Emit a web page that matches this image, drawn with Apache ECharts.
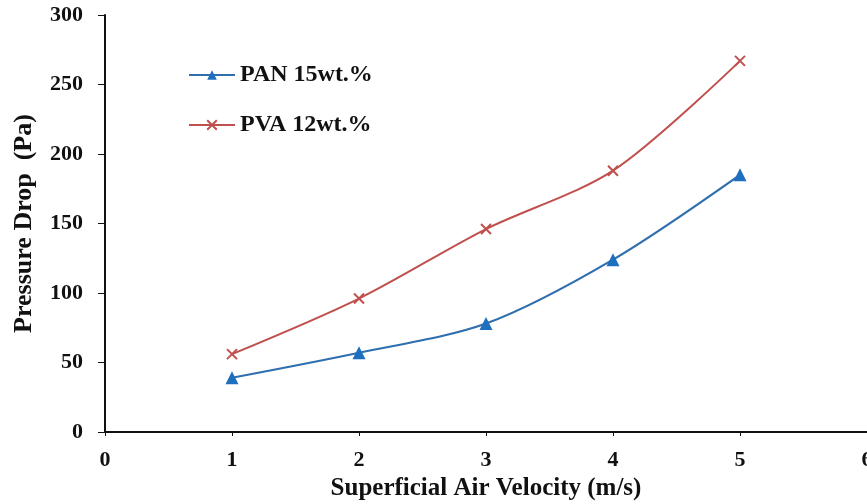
<!DOCTYPE html>
<html><head><meta charset="utf-8">
<script src="https://cdn.jsdelivr.net/npm/echarts@6/dist/echarts.min.js"></script>
<style>html,body{margin:0;padding:0;background:#fff}#c{width:867px;height:504px}</style>
</head><body><div id="c"></div>
<script>
const xValues = [1, 2, 3, 4, 5];
const panValues = [39, 57, 78, 124, 185];
const pvaValues = [56, 96, 146, 188, 267];
const seriesNames = ['PAN 15wt.%', 'PVA 12wt.%'];
const xName = 'Superficial Air Velocity (m/s)';
const yName = 'Pressure Drop  (Pa)';

const font = 'Liberation Serif';
const chart = echarts.init(document.getElementById('c'));
chart.setOption({
  animation: false,
  backgroundColor: '#fff',
  grid: {left: 105, right: 0, top: 15, bottom: 72, containLabel: false, outerBoundsMode: 'none'},
  legend: {
    left: 183, top: 58, orient: 'vertical', itemGap: 26, itemWidth: 46, itemHeight: 12,
    textStyle: {fontFamily: font, fontWeight: 'bold', fontSize: 24, color: '#111'},
    data: seriesNames
  },
  xAxis: {
    type: 'value', min: 0, max: 6, interval: 1,
    name: xName, nameLocation: 'middle', nameGap: 42,
    nameTextStyle: {fontFamily: font, fontWeight: 'bold', fontSize: 25, color: '#111'},
    axisLine: {lineStyle: {color: '#111', width: 2}},
    axisTick: {show: true, length: 4, lineStyle: {color: '#111'}},
    axisLabel: {fontFamily: font, fontWeight: 'bold', fontSize: 22, color: '#111', margin: 17},
    splitLine: {show: false}
  },
  yAxis: {
    type: 'value', min: 0, max: 300, interval: 50,
    name: yName, nameLocation: 'middle', nameGap: 68, nameRotate: 90,
    nameTextStyle: {fontFamily: font, fontWeight: 'bold', fontSize: 26, color: '#111'},
    axisLine: {show: true, lineStyle: {color: '#111', width: 2}},
    axisTick: {show: true, length: 7, lineStyle: {color: '#111'}},
    axisLabel: {fontFamily: font, fontWeight: 'bold', fontSize: 22, color: '#111', margin: 22},
    splitLine: {show: false}
  },
  series: [
    {
      name: seriesNames[0], type: 'line', smooth: 0.3,
      data: xValues.map((x, i) => [x, panValues[i]]),
      symbol: 'triangle', symbolSize: 13,
      lineStyle: {color: '#2f6fae', width: 2.2},
      itemStyle: {color: '#1f6fbf'}
    },
    {
      name: seriesNames[1], type: 'line', smooth: 0.3,
      data: xValues.map((x, i) => [x, pvaValues[i]]),
      symbol: 'path://M0,0 L10,10 M10,0 L0,10', symbolSize: 10,
      lineStyle: {color: '#c0504d', width: 2},
      itemStyle: {color: '#c0504d', borderColor: '#c0504d', borderWidth: 2}
    }
  ]
});
</script></body></html>
